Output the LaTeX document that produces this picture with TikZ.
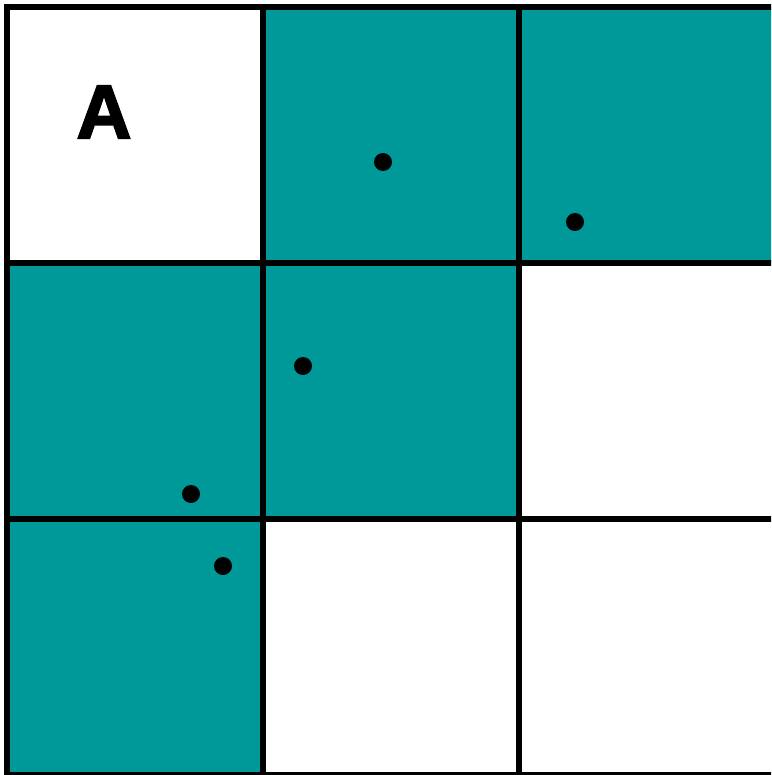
\documentclass[tikz,border=0pt]{standalone}
\usepackage{fontspec}
\setmainfont{Liberation Sans}
\newfontfamily\heavyfont[FakeBold=2.5]{Liberation Sans Bold}
\definecolor{tealfill}{RGB}{0,153,153}
\tikzset{
  cellfill/.style={fill=tealfill},
  gridline/.style={line width=6pt,black},
  dot/.style={circle,fill=black,inner sep=0pt,minimum size=18pt}
}
\begin{document}
\begin{tikzpicture}[x=1pt,y=-1pt]
\useasboundingbox (0,0) rectangle (771,775);
\clip (0,0) rectangle (771,775);
\fill[white] (0,0) rectangle (771,775);
% shaded cells
\fill[cellfill] (263,7) rectangle (519,263);
\fill[cellfill] (519,7) rectangle (775,263);
\fill[cellfill] (7,263) rectangle (263,519);
\fill[cellfill] (263,263) rectangle (519,519);
\fill[cellfill] (7,519) rectangle (263,775);
% grid
\foreach \v in {7,263,519,775} {
  \draw[gridline] (\v,4) -- (\v,778);
  \draw[gridline] (4,\v) -- (778,\v);
}
% label
\node[font=\heavyfont\fontsize{76}{80}\selectfont,inner sep=0pt] (lblA) at (104,112) {A};
% dots
\node[dot] (d1) at (383,162) {};
\node[dot] (d2) at (575,222) {};
\node[dot] (d3) at (303,366) {};
\node[dot] (d4) at (191,494) {};
\node[dot] (d5) at (223,566) {};
\end{tikzpicture}
\end{document}
